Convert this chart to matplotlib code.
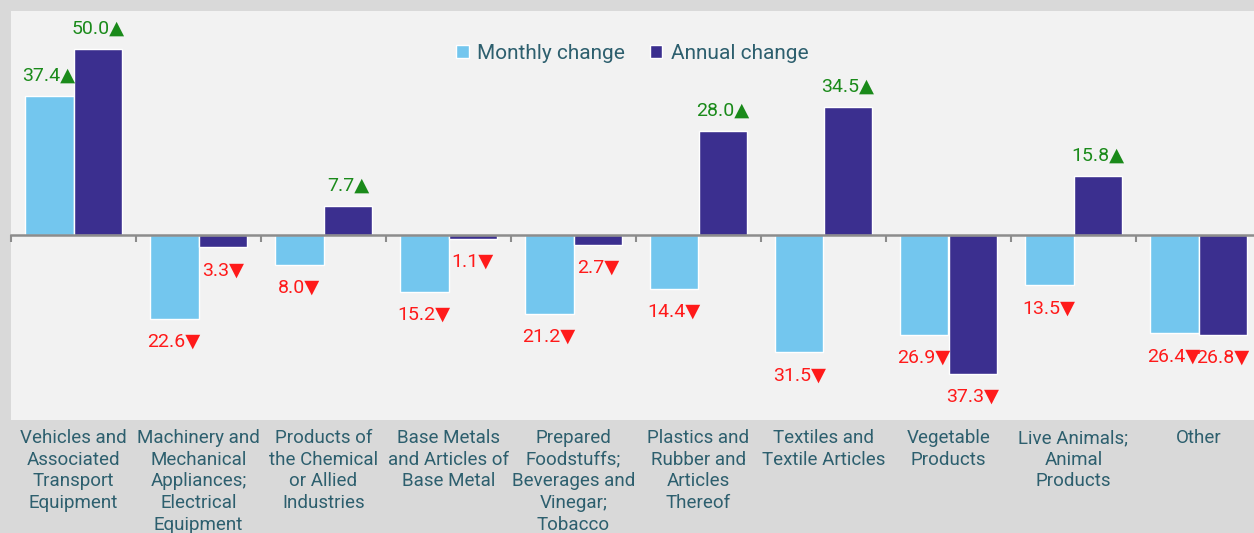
import matplotlib.pyplot as plt
import numpy as np
from matplotlib.patches import Patch
from matplotlib.transforms import blended_transform_factory

plt.rcParams['font.family'] = ['Roboto', 'DejaVu Sans']

# %% data
categories = ['Vehicles and\nAssociated\nTransport\nEquipment',
              'Machinery and\nMechanical\nAppliances;\nElectrical\nEquipment',
              'Products of\nthe Chemical\nor Allied\nIndustries',
              'Base Metals\nand Articles of\nBase Metal',
              'Prepared\nFoodstuffs;\nBeverages and\nVinegar;\nTobacco',
              'Plastics and\nRubber and\nArticles\nThereof',
              'Textiles and\nTextile Articles',
              'Vegetable\nProducts',
              'Live Animals;\nAnimal\nProducts',
              'Other']
monthly = [37.4, -22.6, -8.0, -15.2, -21.2, -14.4, -31.5, -26.9, -13.5, -26.4]
annual = [50.0, -3.3, 7.7, -1.1, -2.7, 28.0, 34.5, -37.3, 15.8, -26.8]

c_month = '#73c6ee'
c_year = '#3b2f8f'
c_text = '#2d5f6e'

# %% plot
fig = plt.figure(figsize=(12.54, 5.33), dpi=100, facecolor='#d9d9d9')
ax = fig.add_axes([11/1254, 113/533, 1250/1254, 409/533], facecolor='#f2f2f2')

x = np.arange(len(categories))
w = 0.39
ax.bar(x - w/2, monthly, w, color=c_month, edgecolor='white', linewidth=1, zorder=2)
ax.bar(x + w/2, annual, w, color=c_year, edgecolor='white', linewidth=1, zorder=2)

for xs, vals in ((x - w/2, monthly), (x + w/2, annual)):
    for xi, v in zip(xs, vals):
        if v >= 0:
            ax.annotate(f'{v:.1f}\u25b2', (xi, v), xytext=(0, 11), textcoords='offset points',
                        ha='center', va='baseline', fontsize=14, color='#1a8a1a', zorder=3)
        else:
            ax.annotate(f'{-v:.1f}\u25bc', (xi, v), xytext=(0, -10), textcoords='offset points',
                        ha='center', va='top', fontsize=14, color='#ff1a1a', zorder=3)

ax.set_xlim(-0.5, 9.5)
ax.set_ylim(-49.7, 60.2)
for s in ['top', 'right', 'left']:
    ax.spines[s].set_visible(False)
ax.spines['bottom'].set_position(('data', 0))
ax.spines['bottom'].set_color('#8c8c8c')
ax.spines['bottom'].set_linewidth(1.8)
ax.spines['bottom'].set_zorder(4)
ax.set_yticks([])
ax.set_xticks(np.arange(-0.5, 10, 1))
ax.set_xticklabels([])
ax.tick_params(axis='x', direction='out', length=5, width=1.5, color='#8c8c8c')

trans = blended_transform_factory(ax.transData, ax.transAxes)
for xi, lab in zip(x, categories):
    ax.text(xi, -0.022, lab, transform=trans, ha='center', va='top', fontsize=13.5,
            color=c_text, linespacing=1.26)

handles = [Patch(facecolor=c_month, edgecolor='white', label='Monthly change'),
           Patch(facecolor=c_year, edgecolor='white', label='Annual change')]
ax.legend(handles=handles, loc='upper center', bbox_to_anchor=(0.497, 0.965), ncol=2,
          frameon=False, fontsize=15, labelcolor=c_text, handlelength=0.6, handleheight=0.6,
          handletextpad=0.4, columnspacing=1.2)

fig.savefig('out.png', dpi=100, facecolor=fig.get_facecolor())
